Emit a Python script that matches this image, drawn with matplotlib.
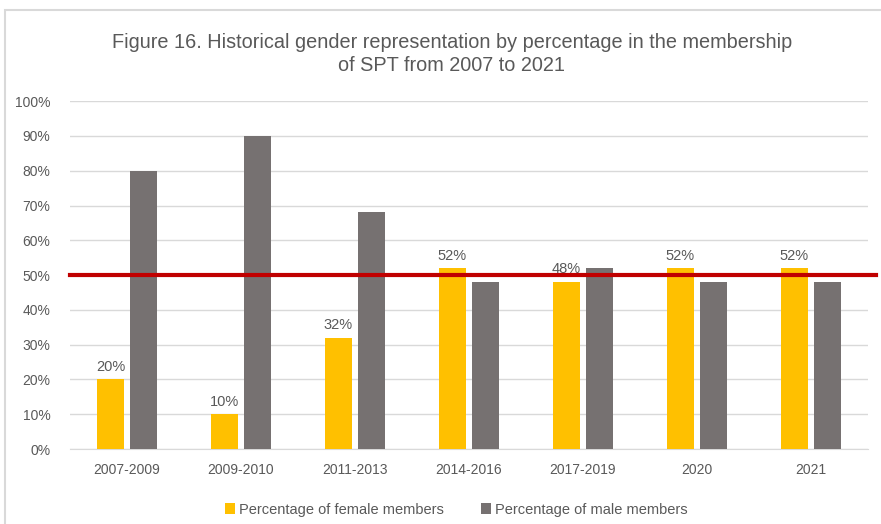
import matplotlib.pyplot as plt
import matplotlib.transforms as mtransforms
from matplotlib.patches import Rectangle
import numpy as np

plt.rcParams['font.family'] = ['Liberation Sans', 'DejaVu Sans']

# data
periods = ['2007-2009', '2009-2010', '2011-2013', '2014-2016', '2017-2019', '2020', '2021']
female = [20, 10, 32, 52, 48, 52, 52]
male = [80, 90, 68, 48, 52, 48, 48]
parity = 50

yellow = '#FFC000'
grey = '#767171'
red = '#C00000'
txt = '#595959'

fig = plt.figure(figsize=(8.81, 5.24), dpi=100)
ax = fig.add_axes([0.0795, 0.143, 0.9055, 0.664])

# chart border
fig.patches.append(Rectangle((5 / 881, -0.1), 1.2, (514 / 524) + 0.1, transform=fig.transFigure,
                             fill=False, edgecolor='#D9D9D9', linewidth=1.5))

x = np.arange(len(periods))
w = 0.235
ax.bar(x - 0.145, female, w, color=yellow, label='Percentage of female members', zorder=3)
ax.bar(x + 0.145, male, w, color=grey, label='Percentage of male members', zorder=3)

for xi, v in zip(x, female):
    ax.text(xi - 0.145, v + 1.6, f'{v}%', ha='center', va='bottom', fontsize=10.5, color=txt, zorder=4)

# 50% line, a bit past the plot area
trans = mtransforms.blended_transform_factory(ax.transAxes, ax.transData)
ax.plot([0, 1.01], [parity, parity], color=red, linewidth=3, transform=trans, clip_on=False, zorder=5)

ax.set_xlim(-0.5, len(periods) - 0.5)
ax.set_ylim(0, 100)
ax.set_yticks(range(0, 101, 10))
ax.set_yticklabels([f'{t}%' for t in range(0, 101, 10)])
ax.set_xticks(x)
ax.set_xticklabels(periods)
ax.tick_params(axis='both', length=0, labelsize=10, labelcolor=txt)
ax.tick_params(axis='x', pad=10)
ax.tick_params(axis='y', pad=14)
ax.grid(axis='y', color='#D9D9D9', linewidth=1, zorder=0)
for s in ['top', 'right', 'left']:
    ax.spines[s].set_visible(False)
ax.spines['bottom'].set_color('#D9D9D9')

fig.text(0.513, 0.897, 'Figure 16. Historical gender representation by percentage in the membership\nof SPT from 2007 to 2021',
         ha='center', va='center', fontsize=14.3, color=txt, linespacing=1.3)

ax.legend(loc='center', bbox_to_anchor=(0.484, -0.175), ncol=2, frameon=False, fontsize=10.5,
          labelcolor=txt, handlelength=0.7, handleheight=0.8, columnspacing=2.5, handletextpad=0.3)

fig.savefig('out.png', dpi=100)
